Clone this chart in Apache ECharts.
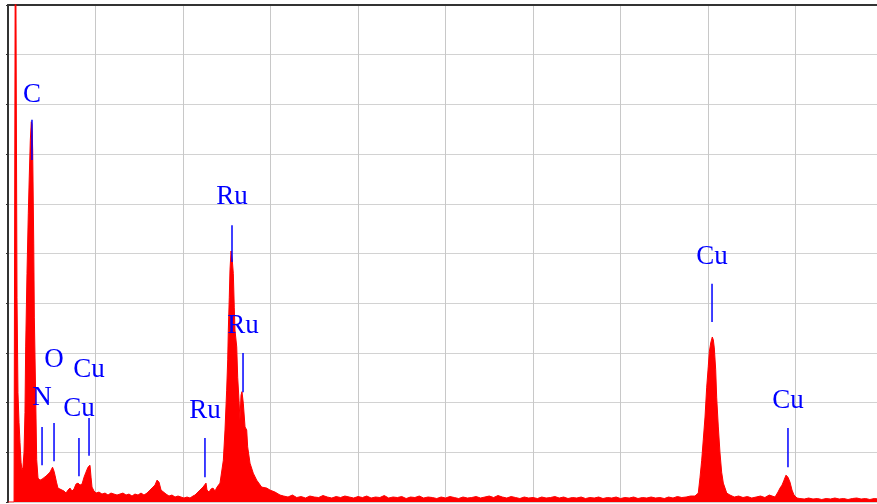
<!DOCTYPE html>
<html>
<head>
<meta charset="utf-8">
<script src="https://cdn.jsdelivr.net/npm/echarts@6/dist/echarts.min.js"></script>
<style>
html,body{margin:0;padding:0;background:#fff;}
#chart{width:877px;height:504px;}
</style>
</head>
<body>
<div id="chart"></div>
<script>
// Energy axis (keV) and counts
const energyKeV = [
  0.000,0.069,0.080,0.085,0.097,0.103,0.114,0.126,0.137,0.149,0.160,0.171,0.183,0.194,0.202,0.217,0.232,0.243,0.255,0.266,0.274,0.282,0.294,0.301,0.317,0.328,
  0.343,0.366,0.389,0.411,0.434,0.457,0.480,0.491,0.509,0.526,0.537,0.554,0.571,0.594,0.617,0.640,0.663,0.686,0.709,0.731,0.754,0.777,0.800,0.823,0.846,0.869,0.891,0.914,0.937,0.949,0.960,0.983,
  1.006,1.040,1.074,1.109,1.143,1.177,1.211,1.246,1.280,1.314,1.349,1.383,1.417,1.451,1.486,1.520,1.554,1.589,1.623,1.657,1.680,1.703,1.726,1.737,1.749,1.771,1.806,1.840,1.874,1.909,1.943,1.977,
  2.011,2.046,2.080,2.114,2.137,2.160,2.194,2.229,2.251,2.263,2.274,2.297,2.320,2.343,2.366,2.389,2.411,2.423,2.442,2.461,2.480,2.499,2.511,2.518,2.529,2.537,2.549,2.563,2.575,2.586,2.594,2.614,2.625,2.640,2.651,2.663,2.674,2.689,2.709,2.728,2.739,2.766,2.803,2.842,2.899,2.957,2.994,3.051,3.109,
  3.15,3.20,3.25,3.30,3.35,3.40,3.45,3.50,3.55,3.60,3.65,3.70,3.75,3.80,3.85,3.90,3.95,4.00,4.05,4.10,4.15,4.20,4.25,4.30,4.35,4.40,4.45,4.50,4.55,4.60,4.65,4.70,4.75,4.80,4.85,4.90,4.95,
  5.00,5.05,5.10,5.15,5.20,5.25,5.30,5.35,5.40,5.45,5.50,5.55,5.60,5.65,5.70,5.75,5.80,5.85,5.90,5.95,6.00,6.05,6.10,6.15,6.20,6.25,6.30,6.35,6.40,6.45,6.50,6.55,6.60,6.65,6.70,6.75,6.80,6.85,6.90,6.95,
  7.00,7.05,7.10,7.15,7.20,7.25,7.30,7.35,7.40,7.45,7.50,7.55,7.60,7.65,7.70,7.75,7.80,7.851,7.889,7.909,7.928,7.946,7.966,7.985,8.003,8.015,8.031,8.049,8.061,8.072,8.088,8.099,8.118,8.137,8.156,8.175,8.214,8.251,
  8.30,8.35,8.40,8.45,8.50,8.55,8.60,8.65,8.70,8.766,8.800,8.823,8.846,8.869,8.891,8.914,8.937,8.960,8.983,9.017,9.05,9.10,9.15,9.20,9.25,9.30,9.35,9.40,9.45,9.50,9.55,9.60,9.65,9.70,9.75,9.80,9.85,9.90,9.95,10.0
];
const counts = [
  0,0,0,1300,1300,412,220,160,120,80,64,70,100,180,312,460,581,654,728,765,760,708,521,372,205,85,
  48,44,46,50,52,56,60,64,70,62,54,40,28,26,24,22,18,24,28,22,26,36,38,34,36,50,60,70,74,50,30,22,
  18,20,16,18,14,18,16,14,16,18,14,16,12,16,14,18,14,18,24,30,34,44,40,44,24,20,16,12,14,10,12,10,
  8,10,8,12,14,18,24,30,32,38,24,20,26,28,22,30,34,38,40,84,145,225,286,346,412,467,505,487,460,392,346,312,251,205,165,215,222,199,151,145,111,78,58,44,30,28,24,20,14,
  12,10,14,9,11,8,12,10,9,13,10,8,11,9,12,10,8,11,9,12,8,10,9,13,8,10,9,11,7,10,9,12,8,10,9,7,10,
  8,11,9,7,10,8,9,11,8,10,12,9,13,10,8,11,9,7,10,8,9,7,10,8,9,11,8,10,7,9,8,10,7,9,8,10,7,9,8,10,
  7,9,8,10,7,9,8,10,8,9,7,10,8,11,9,10,12,12,18,50,84,125,171,231,272,302,320,332,326,310,266,211,151,99,60,38,18,14,
  10,12,9,11,8,10,12,9,14,10,20,28,34,44,54,50,40,24,14,8,7,6,8,6,7,5,7,6,8,6,7,5,7,8,6,7,5,7,6,6
];

// Peak annotations
const peakNames  = ['C','N','O','Cu','Cu','Ru','Ru','Ru','Cu','Cu'];
const peakEnergy = [0.274,0.389,0.526,0.811,0.926,2.251,2.560,2.686,8.046,8.914];
const markTop    = [769,151,159,129,169,129,557,300,439,149];
const markBottom = [688,74,82,52,93,50,483,221,362,70];
const labelLevel = [819,209,286,187,266,183,614,354,494,204];

const xTicks = [0,1,2,3,4,5,6,7,8,9,10];

const chart = echarts.init(document.getElementById('chart'));
const spectrum = energyKeV.map((e, i) => [e, counts[i]]);
const peaks = peakEnergy.map((e, i) => [e, markTop[i], markBottom[i], labelLevel[i]]);

chart.setOption({
  animation: false,
  backgroundColor: '#ffffff',
  grid: { left: 8, top: 5, right: -6, bottom: 2, containLabel: false, outerBoundsMode: 'none' },
  xAxis: [{
    type: 'value', min: xTicks[0], max: xTicks[xTicks.length - 1], interval: 1,
    axisLine: { show: false }, axisTick: { show: false }, axisLabel: { show: false },
    splitLine: { show: true, lineStyle: { color: '#c8c8c8', width: 1 } }
  }, {
    type: 'value', position: 'top', min: 0, max: 10,
    axisLine: { show: true, onZero: false, lineStyle: { color: '#333333', width: 2 } },
    axisTick: { show: false }, axisLabel: { show: false }, splitLine: { show: false }
  }],
  yAxis: {
    type: 'value', min: 0, max: 1000, interval: 100,
    axisLine: { show: true, onZero: false, lineStyle: { color: '#333333', width: 2 } },
    axisTick: { show: true, length: 2, lineStyle: { color: '#333333', width: 1 } },
    axisLabel: { show: false },
    splitLine: { show: true, lineStyle: { color: '#d2d2d2', width: 1 } }
  },
  series: [{
    type: 'line',
    data: spectrum,
    showSymbol: false,
    symbol: 'none',
    clip: true,
    lineStyle: { color: '#ff0000', width: 1 },
    areaStyle: { color: '#ff0000', opacity: 1 },
    z: 2
  }, {
    type: 'custom',
    data: peaks,
    z: 5,
    renderItem: function (params, api) {
      const e = api.value(0);
      const p1 = api.coord([e, api.value(1)]);
      const p2 = api.coord([e, api.value(2)]);
      const pl = api.coord([e, api.value(3)]);
      return {
        type: 'group',
        children: [{
          type: 'line',
          shape: { x1: p1[0], y1: p1[1], x2: p2[0], y2: p2[1] },
          style: { stroke: '#0000ff', lineWidth: 1.5 }
        }, {
          type: 'text',
          x: pl[0], y: pl[1],
          style: {
            text: peakNames[params.dataIndex],
            fill: '#0000ff',
            font: '27px "Liberation Serif", serif',
            textAlign: 'center',
            textVerticalAlign: 'middle'
          }
        }]
      };
    }
  }]
});
</script>
</body>
</html>
